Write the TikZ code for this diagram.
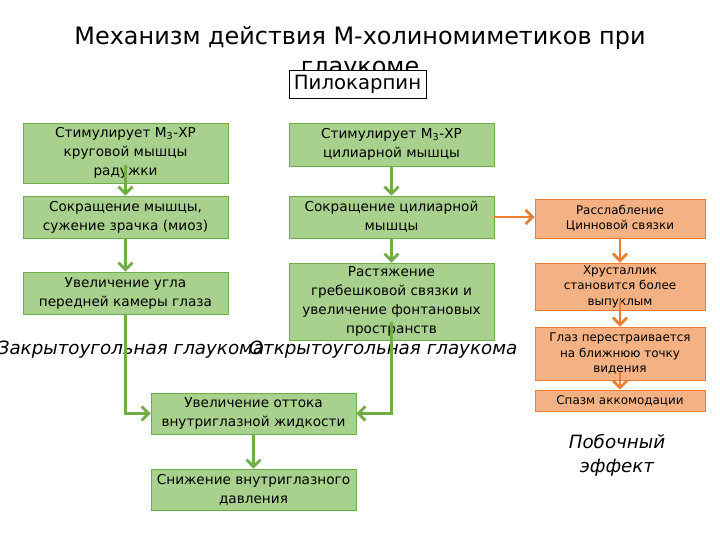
\documentclass[tikz,border=0pt]{standalone}
\usepackage{fontspec}
\setmainfont{DejaVu Sans}
\usetikzlibrary{arrows.meta}

\definecolor{grfill}{RGB}{169,209,142}
\definecolor{grline}{RGB}{112,173,71}
\definecolor{orfill}{RGB}{244,177,131}
\definecolor{orline}{RGB}{237,125,49}

\begin{document}
\begin{tikzpicture}[
    x=0.025cm, y=-0.025cm,
    gbox/.style={draw=grline, fill=grfill, minimum width=5.125cm,
                 minimum height=#1, align=center, inner sep=1pt,
                 font=\fontsize{9.7}{13.5}\selectfont},
    obox/.style={draw=orline, fill=orfill, minimum width=4.25cm,
                 minimum height=#1, align=center, inner sep=1pt,
                 font=\fontsize{8.5}{11}\selectfont},
    garr/.style={-{Straight Barb[length=5pt,width=10pt]}, grline, line width=2pt},
    oarr/.style={-{Straight Barb[length=5pt,width=10pt]}, orline, line width=2pt},
    lbl/.style={font=\fontsize{13}{17}\selectfont\itshape, align=center},
]
\useasboundingbox (0,0) rectangle (720,540);

% title
\node[font=\fontsize{17}{21}\selectfont, align=center] (title) at (360,53)
    {Механизм действия М-холиномиметиков при\\глаукоме};
\node[draw, fill=white, minimum width=3.425cm, minimum height=0.7cm,
      inner sep=1pt, font=\fontsize{14}{16}\selectfont] (pilo) at (357.5,84) {Пилокарпин};

% left column
\node[gbox=1.5cm]   (iris)   at (125.5,153) {Стимулирует М\textsubscript{3}-ХР\\круговой мышцы\\радужки};
\node[gbox=1.05cm]  (miosis) at (125.5,217) {Сокращение мышцы,\\сужение зрачка (миоз)};
\node[gbox=1.05cm]  (angle)  at (125.5,293) {Увеличение угла\\передней камеры глаза};

% middle column
\node[gbox=1.075cm] (cil)    at (391.5,144.5) {Стимулирует М\textsubscript{3}-ХР\\цилиарной мышцы};
\node[gbox=1.05cm]  (cilcon) at (391.5,217) {Сокращение цилиарной\\мышцы};
\node[gbox=1.925cm] (stretch) at (391.5,301.5) {Растяжение\\гребешковой связки и\\увеличение фонтановых\\пространств};

% bottom
\node[gbox=1.025cm] (outflow) at (253.5,413.5) {Увеличение оттока\\внутриглазной жидкости};
\node[gbox=1.025cm] (press)   at (253.5,489.5) {Снижение внутриглазного\\давления};

% side effect column
\node[obox=0.975cm] (zinn)  at (620,218.5) {Расслабление\\Цинновой связки};
\node[obox=1.175cm] (lens)  at (620,286.5) {Хрусталлик\\становится более\\выпуклым};
\node[obox=1.325cm] (near)  at (620,353.5) {Глаз перестраивается\\на ближнюю точку\\видения};
\node[obox=0.525cm] (spasm) at (620,400.5) {Спазм аккомодации};

% labels
\node[lbl] (closed) at (131,350) {Закрытоугольная глаукома};
\node[lbl] (open)   at (383,350) {Открытоугольная глаукома};
\node[lbl] (side)   at (617,455) {Побочный\\эффект};

% connectors
\draw[garr, shorten <=-0.45cm] (iris) -- (miosis);
\draw[garr] (miosis) -- (angle);
\draw[garr] (angle.south) |- (outflow.west);
\draw[garr] (cil) -- (cilcon);
\draw[garr] (cilcon) -- (stretch);
\draw[garr, shorten <=-0.45cm] (stretch.south) |- (outflow.east);
\draw[garr] (outflow) -- (press);
\draw[oarr] (cilcon.east) -- (cilcon.east -| zinn.west);
\draw[oarr] (zinn) -- (lens);
\draw[oarr, shorten <=-0.25cm] (lens) -- (near);
\draw[oarr, shorten <=-0.2cm] (near) -- (spasm);
\end{tikzpicture}
\end{document}
